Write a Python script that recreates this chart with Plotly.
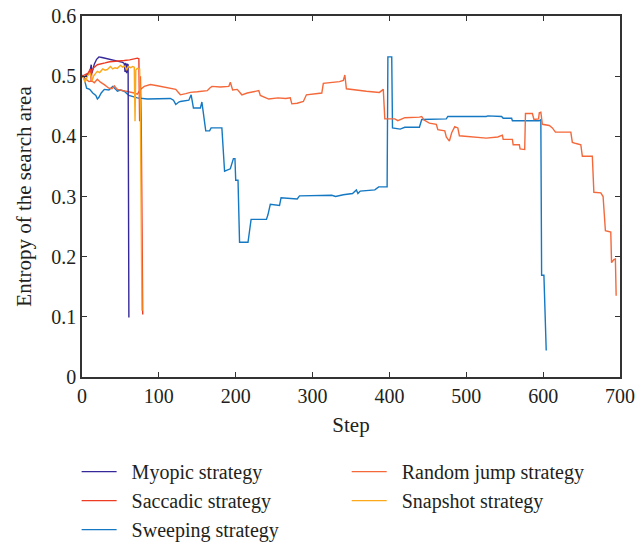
import plotly.graph_objects as go

# ---------------- data ----------------
myopic_steps = [0, 3, 6, 9, 11, 12, 13, 14, 16, 19, 22, 26, 30, 36, 42, 48, 53, 55, 56, 57, 58, 59, 60, 61]
myopic_vals = [0.500, 0.498, 0.502, 0.505, 0.512, 0.519, 0.505, 0.510, 0.520, 0.528, 0.532, 0.531,
               0.530, 0.528, 0.527, 0.525, 0.523, 0.521, 0.507, 0.522, 0.505, 0.520, 0.519, 0.099]

saccadic_steps = [0, 4, 8, 11, 12, 13, 16, 20, 25, 30, 36, 42, 48, 55, 62, 68, 72, 74, 75, 76, 77, 79]
saccadic_vals = [0.500, 0.502, 0.505, 0.512, 0.492, 0.510, 0.515, 0.519, 0.521, 0.522, 0.524, 0.525,
                 0.525, 0.526, 0.527, 0.529, 0.530, 0.529, 0.425, 0.500, 0.430, 0.104]

snapshot_steps = [0, 2, 4, 7, 10, 12, 13, 15, 18, 20, 23, 27, 30, 33, 37, 40, 43, 46, 50, 53, 56,
                  58, 60, 63, 66, 68, 69, 70, 72, 75, 76, 78]
snapshot_vals = [0.500, 0.497, 0.490, 0.500, 0.505, 0.500, 0.492, 0.500, 0.505, 0.508, 0.506, 0.512,
                 0.510, 0.511, 0.516, 0.512, 0.514, 0.513, 0.518, 0.515, 0.517, 0.510, 0.516, 0.514,
                 0.516, 0.515, 0.425, 0.510, 0.513, 0.512, 0.440, 0.110]

random_steps = [0, 5, 9, 13, 16, 20, 24, 29, 35, 39, 42, 46, 50, 55, 61, 68, 72, 76, 81, 89, 98, 106,
                115, 122, 126, 128, 135, 141, 150, 163, 166, 169, 180, 191, 193, 196, 202, 208, 215,
                225, 230, 232, 243, 255, 265, 271, 273, 280, 288, 292, 300, 312, 314, 325, 335, 340,
                342, 344, 355, 370, 387, 392, 394, 407, 411, 420, 439, 442, 445, 452, 461, 463, 472,
                474, 478, 481, 485, 489, 491, 511, 526, 541, 547, 548, 560, 561, 569, 570, 576, 577,
                586, 588, 594, 595, 597, 599, 608, 612, 616, 636, 638, 643, 649, 651, 664, 666, 675,
                678, 681, 688, 689, 692, 694, 695]
random_vals = [0.500, 0.495, 0.491, 0.492, 0.489, 0.495, 0.490, 0.486, 0.480, 0.479, 0.484, 0.478,
               0.477, 0.475, 0.473, 0.472, 0.470, 0.478, 0.483, 0.486, 0.484, 0.482, 0.480, 0.478,
               0.472, 0.469, 0.471, 0.473, 0.474, 0.476, 0.480, 0.483, 0.482, 0.483, 0.490, 0.477,
               0.478, 0.469, 0.472, 0.474, 0.476, 0.468, 0.462, 0.464, 0.463, 0.464, 0.454, 0.455,
               0.458, 0.469, 0.470, 0.472, 0.488, 0.489, 0.491, 0.493, 0.502, 0.479, 0.477, 0.475,
               0.473, 0.478, 0.429, 0.429, 0.426, 0.431, 0.432, 0.433, 0.427, 0.422, 0.420, 0.411,
               0.409, 0.399, 0.392, 0.406, 0.416, 0.414, 0.401, 0.399, 0.397, 0.399, 0.402, 0.395,
               0.395, 0.386, 0.386, 0.379, 0.378, 0.438, 0.438, 0.428, 0.429, 0.439, 0.440, 0.420,
               0.418, 0.414, 0.407, 0.407, 0.390, 0.388, 0.386, 0.367, 0.367, 0.307, 0.306, 0.300,
               0.243, 0.241, 0.190, 0.195, 0.196, 0.135]

sweeping_steps = [0, 3, 6, 10, 14, 18, 20, 22, 25, 29, 35, 40, 44, 46, 50, 55, 61, 66, 72, 85, 100,
                  115, 119, 122, 126, 128, 139, 142, 145, 154, 156, 159, 161, 166, 168, 182, 184,
                  185.5, 193, 197, 199, 200, 203, 205, 216, 218, 220, 240, 242, 245, 257, 259, 280,
                  283, 300, 325, 330, 340, 352, 357, 359, 362, 381, 386, 397, 398, 403, 404, 414,
                  420, 439, 442, 474, 476, 526, 528, 546, 548, 559, 560, 595, 597, 598, 601, 604]
sweeping_vals = [0.502, 0.495, 0.480, 0.478, 0.472, 0.468, 0.462, 0.465, 0.472, 0.478, 0.477, 0.483,
                 0.478, 0.475, 0.477, 0.475, 0.468, 0.466, 0.464, 0.462, 0.463, 0.463, 0.460, 0.453,
                 0.457, 0.458, 0.460, 0.469, 0.447, 0.447, 0.457, 0.423, 0.409, 0.409, 0.414, 0.414,
                 0.381, 0.342, 0.346, 0.363, 0.363, 0.327, 0.327, 0.224, 0.224, 0.244, 0.262, 0.262,
                 0.270, 0.287, 0.285, 0.298, 0.296, 0.301, 0.301, 0.302, 0.300, 0.303, 0.305, 0.311,
                 0.305, 0.309, 0.311, 0.316, 0.316, 0.532, 0.532, 0.414, 0.412, 0.415, 0.415, 0.428,
                 0.429, 0.433, 0.433, 0.434, 0.433, 0.430, 0.430, 0.426, 0.426, 0.428, 0.169, 0.169,
                 0.044]

series_names = ["Myopic strategy", "Saccadic strategy", "Sweeping strategy",
                "Random jump strategy", "Snapshot strategy"]
x_ticks = [0, 100, 200, 300, 400, 500, 600, 700]
y_ticks = [0, 0.1, 0.2, 0.3, 0.4, 0.5, 0.6]
y_tick_labels = ["0", "0.1", "0.2", "0.3", "0.4", "0.5", "0.6"]

colors = {
    "Myopic strategy": "#35299A",
    "Saccadic strategy": "#EE3B24",
    "Sweeping strategy": "#1478C2",
    "Random jump strategy": "#F4683A",
    "Snapshot strategy": "#FBA91A",
}

data_map = {
    "Myopic strategy": (myopic_steps, myopic_vals),
    "Random jump strategy": (random_steps, random_vals),
    "Saccadic strategy": (saccadic_steps, saccadic_vals),
    "Snapshot strategy": (snapshot_steps, snapshot_vals),
    "Sweeping strategy": (sweeping_steps, sweeping_vals),
}
# legend column of each series
legend_col = {
    "Myopic strategy": "legend", "Saccadic strategy": "legend", "Sweeping strategy": "legend",
    "Random jump strategy": "legend2", "Snapshot strategy": "legend2",
}

# drawing order (bottom to top)
draw_order = ["Sweeping strategy", "Random jump strategy", "Myopic strategy",
              "Saccadic strategy", "Snapshot strategy"]

FONT = "Liberation Serif, Times New Roman, serif"
TXT = "#231F20"
GAP = "\u00a0\u00a0"

fig = go.Figure()
for name in draw_order:
    xs, ys = data_map[name]
    fig.add_trace(go.Scatter(
        x=xs, y=ys, mode="lines", name=GAP + name,
        line=dict(color=colors[name], width=1.4),
        legend=legend_col[name],
        legendrank=series_names.index(name) + 1,
    ))

axis_common = dict(
    showline=True, linecolor="#333333", linewidth=1.5, mirror="ticks",
    ticks="inside", ticklen=5, tickwidth=1.2, tickcolor="#333333",
    showgrid=False, zeroline=False,
    tickfont=dict(family=FONT, size=20, color=TXT),
)

fig.update_xaxes(
    range=[0, 700], tickvals=x_ticks,
    title=dict(text="Step", font=dict(family=FONT, size=21, color=TXT), standoff=12),
    **axis_common,
)
fig.update_yaxes(
    range=[0, 0.6], tickvals=y_ticks, ticktext=y_tick_labels,
    title=dict(text="Entropy of the search area", font=dict(family=FONT, size=21, color=TXT), standoff=14),
    **axis_common,
)

leg_common = dict(
    orientation="v", yanchor="top", xanchor="left",
    font=dict(family=FONT, size=20, color=TXT),
    itemwidth=35, bgcolor="rgba(0,0,0,0)", traceorder="normal", tracegroupgap=0,
)

fig.update_layout(
    width=637, height=548,
    margin=dict(l=82, r=17, t=16, b=171, autoexpand=False),
    paper_bgcolor="white", plot_bgcolor="white",
    font=dict(family=FONT, color=TXT),
    legend=dict(x=-0.01, y=-0.208, **leg_common),
    legend2=dict(x=0.492, y=-0.208, **leg_common),
)

fig.write_html("out.html")
